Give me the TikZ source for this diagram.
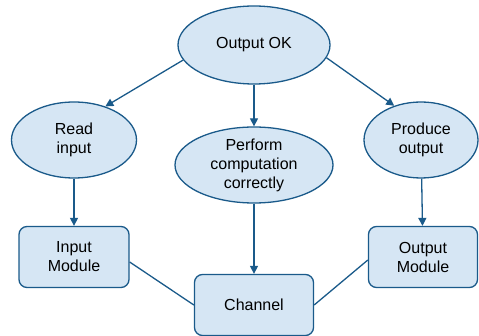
\documentclass[tikz,border=0pt]{standalone}
\usepackage{fontspec}
\setmainfont{Liberation Sans}
\usetikzlibrary{shapes.geometric,arrows.meta}
\definecolor{boxfill}{HTML}{D6E6F4}
\definecolor{boxline}{HTML}{1A5A8A}
\tikzset{
  goal/.style={ellipse,draw=boxline,fill=boxfill,line width=1.3pt,inner sep=0pt,
    align=center,font=\fontsize{16}{19}\selectfont},
  part/.style={rectangle,rounded corners=8pt,draw=boxline,fill=boxfill,line width=1.3pt,
    inner sep=0pt,align=center,font=\fontsize{16}{19}\selectfont},
  link/.style={draw=boxline,line width=1.3pt},
  arr/.style={link,-{Triangle[length=8pt,width=8pt]}}
}
\begin{document}
\begin{tikzpicture}[x=1pt,y=-1pt]
\useasboundingbox (0,0) rectangle (479,336);
\node[goal,minimum width=152pt,minimum height=78pt] (ok) at (254,45) {Output OK};
\node[goal,minimum width=125pt,minimum height=76pt] (read) at (74,140) {Read\\input};
\node[goal,minimum width=158pt,minimum height=76pt] (comp) at (254,165) {Perform\\computation\\correctly};
\node[goal,minimum width=114pt,minimum height=76pt] (prod) at (421,140) {Produce\\output};
\node[part,minimum width=110pt,minimum height=61pt] (inmod) at (74,257) {Input\\Module};
\node[part,minimum width=119pt,minimum height=61pt] (chan) at (254,305) {Channel};
\node[part,minimum width=109pt,minimum height=61pt] (outmod) at (423,257) {Output\\Module};
\draw[arr] (ok.192) -- (read.47);
\draw[arr] (ok) -- (comp);
\draw[arr] (ok.350) -- (prod.128);
\draw[arr] (read) -- (inmod);
\draw[arr] (comp) -- (chan);
\draw[arr] (prod) -- (outmod);
\draw[link] ([yshift=-5pt]inmod.east) -- (chan.west);
\draw[link] ([yshift=-3pt]outmod.west) -- (chan.east);
\end{tikzpicture}
\end{document}
